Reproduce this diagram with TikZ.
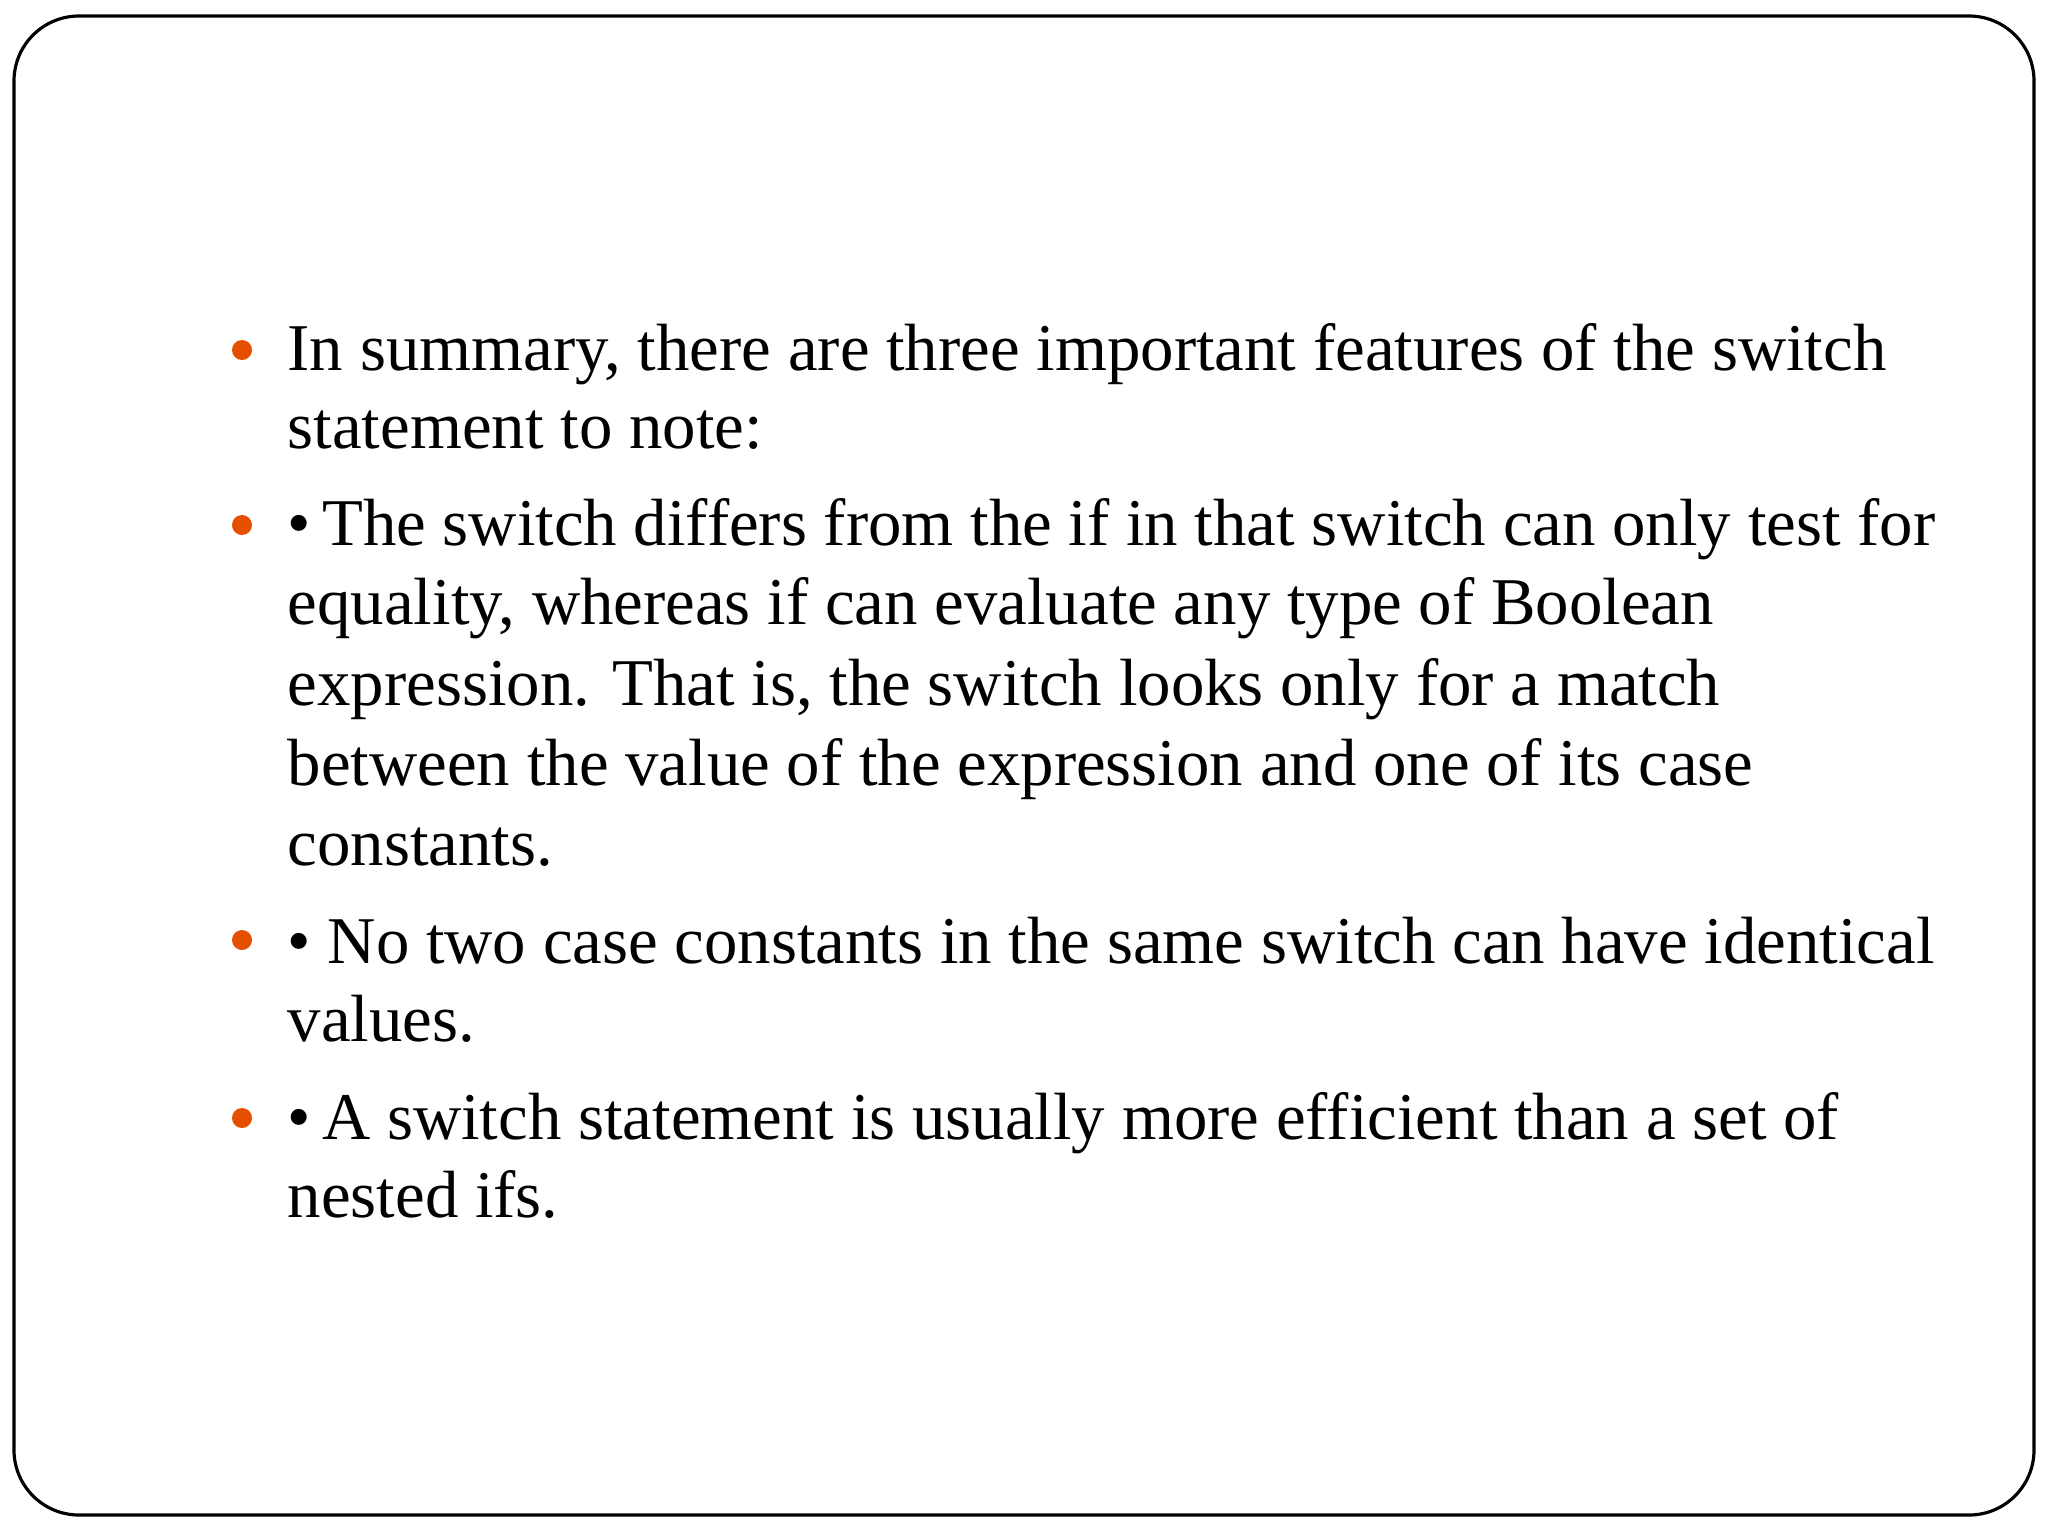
\documentclass[tikz,border=0pt]{standalone}
\usepackage{fontspec}
\setmainfont{Liberation Serif}
\begin{document}
\begin{tikzpicture}[x=0.01cm,y=-0.01cm,
  txt/.style={anchor=base west,inner sep=0pt,font=\fontsize{19}{22}\selectfont},
  dot/.style={circle,fill=orange!70!red!90!black,inner sep=0pt,minimum size=0.2cm}]
\useasboundingbox (0,0) rectangle (2048,1536);
\draw[line width=0.9pt,rounded corners=0.65cm] (14,16) rectangle (2034,1515);
\node[dot] (b1) at (242,350) {};
\node[dot] (b2) at (242,525) {};
\node[dot] (b3) at (242,940) {};
\node[dot] (b4) at (242,1118) {};
\node[txt] (l1) at (287,370) {In summary, there are three important features of the switch};
\node[txt] (l2) at (287,448) {statement to note:};
\node[txt] (l3) at (287,545) {\textbullet\,The switch differs from the if in that switch can only test for};
\node[txt] (l4) at (287,624) {equality, whereas if can evaluate any type of Boolean};
\node[txt] (l5) at (287,705) {expression. That is, the switch looks only for a match};
\node[txt] (l6) at (287,785) {between the value of the expression and one of its case};
\node[txt] (l7) at (287,865) {constants.};
\node[txt] (l8) at (287,963) {\textbullet{} No two case constants in the same switch can have identical};
\node[txt] (l9) at (287,1041) {values.};
\node[txt] (l10) at (287,1139) {\textbullet\,A switch statement is usually more efficient than a set of};
\node[txt] (l11) at (287,1217) {nested ifs.};
\end{tikzpicture}
\end{document}
